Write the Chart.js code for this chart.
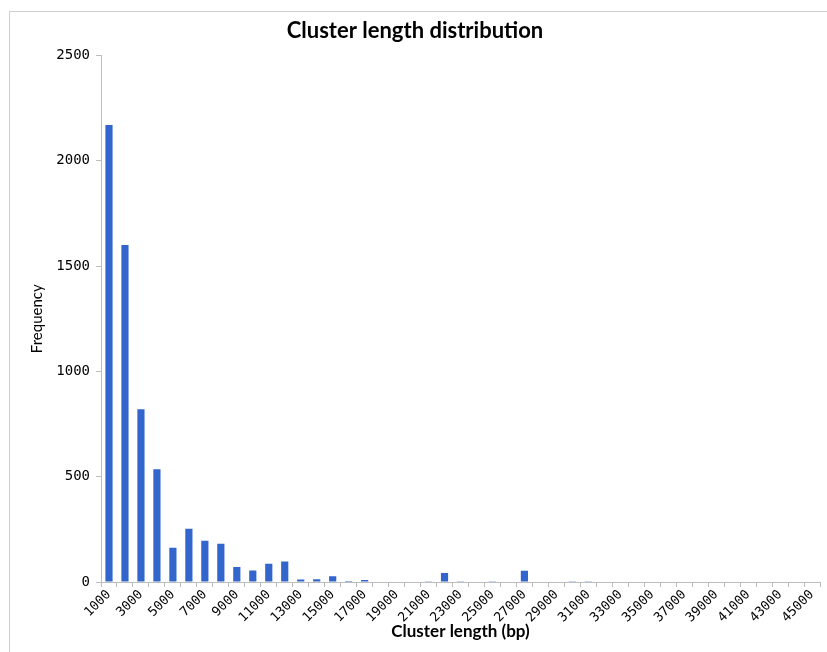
<!DOCTYPE html>
<html>
<head>
<meta charset="utf-8">
<script src="https://cdn.jsdelivr.net/npm/chart.js@4"></script>
<style>
    html, body { margin: 0; padding: 0; background: #ffffff; }
    .frame {
        position: absolute;
        left: 9px;
        top: 11px;
        width: 817px;
        height: 640px;
        border-left: 1px solid #cfcfcf;
        border-top: 1px solid #cfcfcf;
    }
</style>
</head>
<body>

<div class="frame">
    <canvas id="clusterChart"></canvas>
</div>

<script>

/* =========================
   DATA
========================= */

const lengths = [
    "1000","2000","3000","4000","5000","6000","7000","8000","9000","10000",
    "11000","12000","13000","14000","15000","16000","17000","18000","19000","20000",
    "21000","22000","23000","24000","25000","26000","27000","28000","29000","30000",
    "31000","32000","33000","34000","35000","36000","37000","38000","39000","40000",
    "41000","42000","43000","44000","45000"
];

const frequency = [
    2170, 1600, 820, 535, 163, 253, 196, 182, 71, 55,
    87, 97, 12, 13, 27, 5, 9, 2, 2, 2,
    1, 43, 1, 2, 1, 0, 53, 2, 0, 1,
    1, 0, 0, 2, 0, 0, 0, 0, 0, 0,
    0, 0, 0, 2, 0
];

const yTicks = [0, 500, 1000, 1500, 2000, 2500];

/* =========================
   CHART
========================= */

const axisGrey = "#bdbdbd";

new Chart(document.getElementById("clusterChart"), {

    type: "bar",

    data: {
        labels: lengths,
        datasets: [{
            label: "Frequency",
            data: frequency,
            backgroundColor: "#3366cc",
            borderWidth: 0,
            categoryPercentage: 1,
            barPercentage: 0.45
        }]
    },

    options: {

        responsive: true,
        maintainAspectRatio: false,
        animation: false,

        layout: {
            padding: { top: 0, right: 7, bottom: 0, left: 0 }
        },

        plugins: {
            legend: { display: false },
            tooltip: { enabled: false },
            title: {
                display: true,
                text: "Cluster length distribution",
                color: "#000000",
                font: { family: "Lato", size: 22, weight: "bold" },
                padding: { top: 6, bottom: 11 }
            }
        },

        scales: {

            x: {
                afterFit(scale) { scale.height = 70; },
                grid: {
                    display: true,
                    drawOnChartArea: false,
                    drawTicks: true,
                    tickLength: 5,
                    color: axisGrey
                },
                border: { display: true, color: axisGrey },
                ticks: {
                    autoSkip: false,
                    minRotation: 45,
                    maxRotation: 45,
                    padding: 0,
                    color: "#000000",
                    font: { family: "DejaVu Sans Mono", size: 13 },
                    callback(value, index) {
                        return index % 2 === 0 ? lengths[index] : "";
                    }
                },
                title: {
                    display: true,
                    text: "Cluster length (bp)",
                    color: "#000000",
                    font: { family: "Lato", size: 17, weight: "bold" },
                    padding: { top: 0, bottom: 10 }
                }
            },

            y: {
                min: 0,
                max: 2500,
                afterFit(scale) { scale.width = 91; },
                afterBuildTicks(scale) {
                    scale.ticks = yTicks.map(v => ({ value: v }));
                },
                grid: {
                    display: true,
                    drawOnChartArea: false,
                    drawTicks: true,
                    tickLength: 5,
                    color: axisGrey
                },
                border: { display: true, color: axisGrey },
                ticks: {
                    padding: 6,
                    color: "#000000",
                    font: { family: "DejaVu Sans Mono", size: 14 },
                    callback(value) {
                        return String(value);
                    }
                },
                title: {
                    display: true,
                    text: "Frequency",
                    color: "#000000",
                    font: { family: "Lato", size: 15 },
                    padding: { top: 18, bottom: 0 }
                }
            }

        }

    }

});

</script>
</body>
</html>
